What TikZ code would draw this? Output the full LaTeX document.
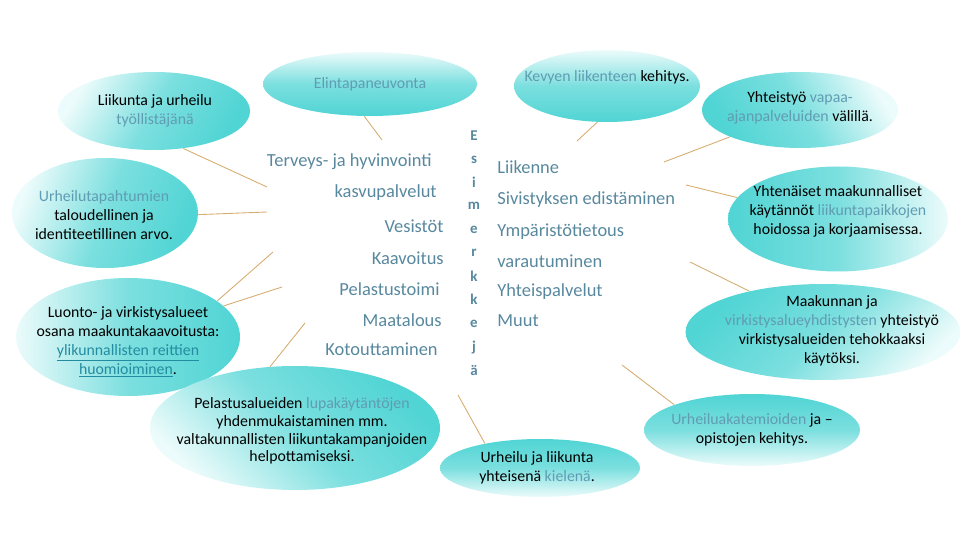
\documentclass[tikz,border=0pt]{standalone}
\usepackage{fontspec}
\setmainfont{Carlito}
\usetikzlibrary{shapes.geometric}
\definecolor{turq}{RGB}{80,212,212}
\definecolor{paleturq}{RGB}{236,251,251}
\definecolor{hilite}{RGB}{96,156,178}
\definecolor{midblue}{RGB}{88,136,158}
\definecolor{linkteal}{RGB}{36,140,160}
\definecolor{twig}{RGB}{214,172,112}
\newcommand{\hw}[1]{\textcolor{hilite}{#1}}
\newcommand{\lnk}[1]{\textcolor{linkteal}{\underline{#1}}}
\tikzset{
  bubble/.style n args={3}{ellipse, inner sep=0pt, minimum width=#1*0.02cm,
    minimum height=#2*0.02cm, top color=paleturq, bottom color=turq,
    middle color=turq!72!paleturq, shading angle=#3},
  btext/.style={align=center, inner sep=0pt, font=\fontsize{9}{10.8}\selectfont},
  midtext/.style={inner sep=0pt, text=midblue, font=\fontsize{10.5}{12}\selectfont},
  vletter/.style={inner sep=0pt, text=midblue, font=\fontsize{8.5}{10}\selectfont\bfseries},
  twigline/.style={draw=twig, line width=0.5pt}
}
\begin{document}
\begin{tikzpicture}[x=0.02cm, y=-0.02cm]
  \useasboundingbox (0,0) rectangle (960,540);
  % bubbles
  \node[bubble={192}{78}{60}] (liikunta) at (154,111) {};
  \node[bubble={186}{110}{70}] (talous) at (105,213) {};
  \node[bubble={224}{118}{90}] (luonto) at (128,337) {};
  \node[bubble={290}{124}{135}] (pelastus) at (295,428) {};
  \node[bubble={214}{64}{0}] (elintapa) at (370,84) {};
  \node[bubble={186}{72}{0}] (kevyt) at (607,86) {};
  \node[bubble={196}{76}{-60}] (yhteistyo) at (800,110) {};
  \node[bubble={220}{105}{-90}] (yhtenaiset) at (838,219) {};
  \node[bubble={275}{96}{225}] (maakunta) at (823,332) {};
  \node[bubble={200}{58}{180}] (kieli) at (540,468) {};
  \node[bubble={216}{72}{180}] (akatemia) at (752,430) {};
  % bubble texts
  \node[btext] (liikuntaT) at (155,111) {Liikunta ja urheilu\\\hw{työllistäjänä}};
  \node[btext] (talousT) at (104,215) {\hw{Urheilutapahtumien}\\taloudellinen ja\\identiteetillinen arvo.};
  \node[btext] (luontoT) at (128,342) {Luonto- ja virkistysalueet\\osana maakuntakaavoitusta:\\\lnk{ylikunnallisten reittien}\\\lnk{huomioiminen}.};
  \node[btext, font=\fontsize{9}{10}\selectfont] (pelastusT) at (302,431) {Pelastusalueiden \hw{lupakäytäntöjen}\\yhdenmukaistaminen mm.\\valtakunnallisten liikuntakampanjoiden\\helpottamiseksi.};
  \node[btext] (elintapaT) at (370,84) {\hw{Elintapaneuvonta}};
  \node[btext] (kevytT) at (607,77) {\hw{Kevyen liikenteen} kehitys.};
  \node[btext] (yhteistyoT) at (800,108) {Yhteistyö \hw{vapaa-}\\\hw{ajanpalveluiden} välillä.};
  \node[btext] (yhtenaisetT) at (838,211) {Yhtenäiset maakunnalliset\\käytännöt \hw{liikuntapaikkojen}\\hoidossa ja korjaamisessa.};
  \node[btext] (maakuntaT) at (832,331) {Maakunnan ja\\\hw{virkistysalueyhdistysten} yhteistyö\\virkistysalueiden tehokkaaksi\\käytöksi.};
  \node[btext] (kieliT) at (537,468) {Urheilu ja liikunta\\yhteisenä \hw{kielenä}.};
  \node[btext] (akatemiaT) at (752,430) {\hw{Urheiluakatemioiden} ja --\\opistojen kehitys.};
  % free ends of the twigs
  \coordinate (liikuntaEnd) at (267,187);
  \coordinate (talousEnd) at (267,212);
  \coordinate (luontoEndA) at (273,252);
  \coordinate (luontoEndB) at (282,287);
  \coordinate (pelastusEnd) at (305,323);
  \coordinate (elintapaEnd) at (382,140);
  \coordinate (kevytEnd) at (577,141);
  \coordinate (yhteistyoEnd) at (664,162);
  \coordinate (yhtenaisetEnd) at (686,185);
  \coordinate (maakuntaEnd) at (690,262);
  \coordinate (kieliEnd) at (458,395);
  \coordinate (akatemiaEnd) at (622,365);
  \draw[twigline] (liikunta.-52) -- (liikuntaEnd);
  \draw[twigline] (talous.-1) -- (talousEnd);
  \draw[twigline] (luonto.22) -- (luontoEndA);
  \draw[twigline] (luonto.18) -- (luontoEndB);
  \draw[twigline] (pelastus.112) -- (pelastusEnd);
  \draw[twigline] (elintapa.-100) -- (elintapaEnd);
  \draw[twigline] (kevyt.-105) -- (kevytEnd);
  \draw[twigline] (yhteistyo.201) -- (yhteistyoEnd);
  \draw[twigline] (yhtenaiset.168) -- (yhtenaisetEnd);
  \draw[twigline] (maakunta.151) -- (maakuntaEnd);
  \draw[twigline] (kieli.156) -- (kieliEnd);
  \draw[twigline] (akatemia.162) -- (akatemiaEnd);
  % left column
  \node[midtext, anchor=east] (terveys) at (432,162) {Terveys- ja hyvinvointi};
  \node[midtext, anchor=east] (kasvu) at (437,193) {kasvupalvelut};
  \node[midtext, anchor=east] (vesi) at (444,226) {Vesistöt};
  \node[midtext, anchor=east] (kaava) at (444,258) {Kaavoitus};
  \node[midtext, anchor=east] (pelastustoimi) at (440,289) {Pelastustoimi};
  \node[midtext, anchor=east] (maatalous) at (442,320) {Maatalous};
  \node[midtext, anchor=east] (kotoutus) at (438,349) {Kotouttaminen};
  % vertical word
  \foreach \ch/\yy in {E/136, s/160, i/182, m/206, e/230, r/253, k/276, k/299, e/324, j/348, ä/370}
    \node[vletter] (v\yy) at (474,\yy) {\ch};
  % right column
  \node[midtext, anchor=west] (liikenne) at (497,167) {Liikenne};
  \node[midtext, anchor=west] (sivistys) at (497,200) {Sivistyksen edistäminen};
  \node[midtext, anchor=west] (ymparisto) at (497,232) {Ympäristötietous};
  \node[midtext, anchor=west] (varautuminen) at (497,261) {varautuminen};
  \node[midtext, anchor=west] (yhteispalvelut) at (497,292) {Yhteispalvelut};
  \node[midtext, anchor=west] (muut) at (497,321) {Muut};
\end{tikzpicture}
\end{document}
